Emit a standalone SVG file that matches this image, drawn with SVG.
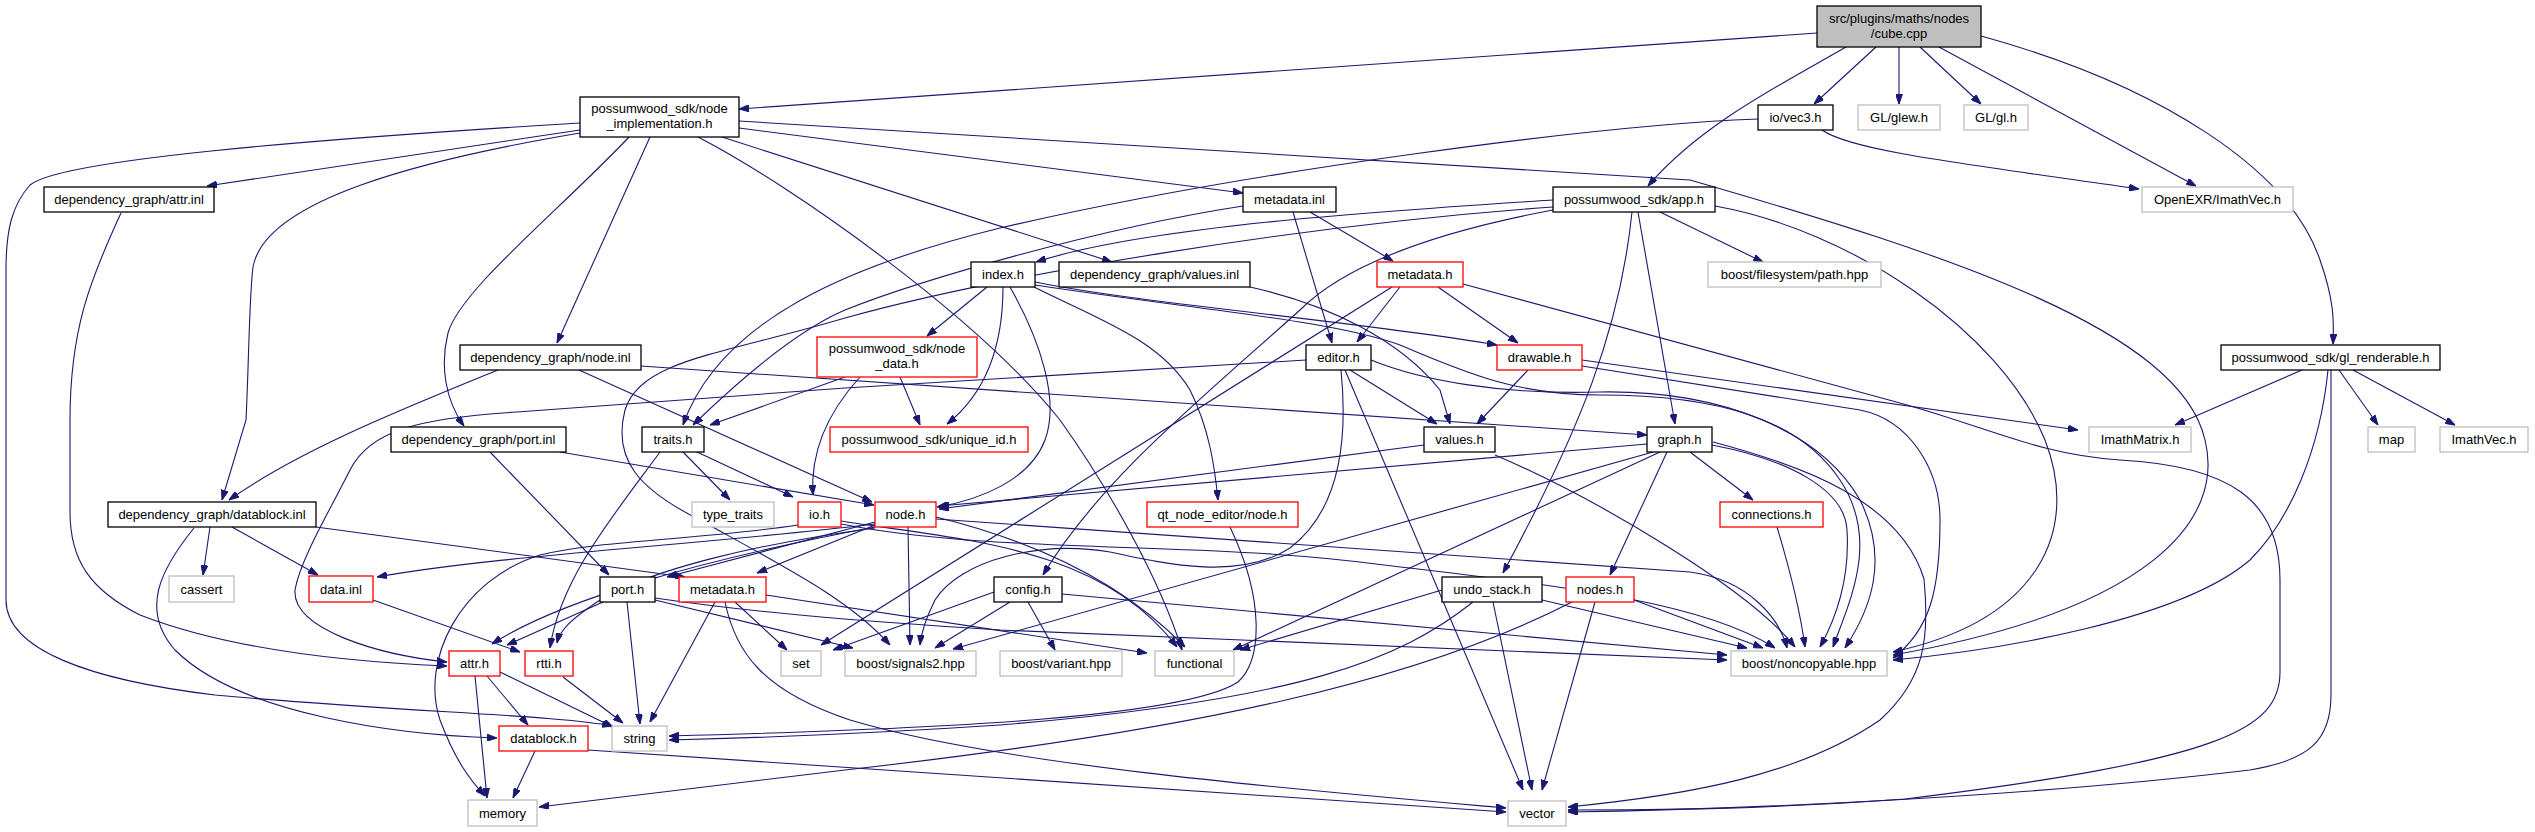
<svg xmlns="http://www.w3.org/2000/svg" width="2535" height="832" viewBox="0 0 2535 832">
<defs>
<marker id="ah" viewBox="0 0 10 7" refX="10" refY="3.5" markerWidth="10" markerHeight="7" markerUnits="userSpaceOnUse" orient="auto"><path d="M0,0 L10,3.5 L0,7 z" fill="#191970" stroke="#191970" stroke-width="1"/></marker>
<style>
.e{fill:none;stroke:#191970;stroke-width:1.1;marker-end:url(#ah)}
.n rect{fill:#fff;stroke:#000;stroke-width:1.3}
.r rect{fill:#fff;stroke:#ff0000;stroke-width:1.3}
.g rect{fill:#fff;stroke:#bfbfbf;stroke-width:1.3}
.c rect{fill:#bfbfbf;stroke:#000;stroke-width:1.3}
text{font-family:"Liberation Sans",Arial,sans-serif;font-size:13px;fill:#000;text-anchor:middle}
</style>
</defs>
<rect width="2535" height="832" fill="#fff"/>
<g id="edges">
<path class="e" d="M1817,33 L739,109"/>
<path class="e" d="M1876,47 L1814,104"/>
<path class="e" d="M1899,47 L1899,104"/>
<path class="e" d="M1920,47 L1981,104"/>
<path class="e" d="M1939,47 L2196,186"/>
<path class="e" d="M1846,47 C1780,85 1700,125 1648,186"/>
<path class="e" d="M1981,36 C2160,85 2290,170 2320,260 C2334,300 2334,320 2333,344"/>
<path class="e" d="M1822,130 C1850,150 1950,162 2139,189"/>
<path class="e" d="M1758,119 C1600,125 1250,170 1000,228 C850,265 720,320 683,425"/>
<path class="e" d="M580,130 L207,186"/>
<path class="e" d="M580,123 C300,140 60,160 30,185 C12,205 6,230 6,270 L6,600 C6,650 90,680 215,695 C400,712 560,715 612,726"/>
<path class="e" d="M580,133 C420,160 265,200 253,267 C249,300 249,360 246,420 L222,500"/>
<path class="e" d="M629,137 C560,210 460,290 448,333 C440,365 445,400 464,426"/>
<path class="e" d="M650,137 L557,343"/>
<path class="e" d="M739,128 L1243,193"/>
<path class="e" d="M722,137 L1112,262"/>
<path class="e" d="M698,137 C800,190 980,320 1060,420 C1110,490 1160,580 1182,650"/>
<path class="e" d="M739,121 L1690,180 C1950,255 2180,330 2205,440 C2225,520 2150,610 1893,655"/>
<path class="e" d="M1553,200 C1400,210 1150,225 1036,262"/>
<path class="e" d="M1553,207 C1300,225 1000,275 845,318 C720,355 640,360 625,410 C612,460 640,490 700,520 C790,570 850,600 890,645"/>
<path class="e" d="M1553,210 C1420,235 1340,270 1300,310 C1200,400 1100,480 1043,575"/>
<path class="e" d="M1660,212 L1763,262"/>
<path class="e" d="M1715,206 C1850,230 2000,330 2045,440 C2080,530 2040,620 1893,652"/>
<path class="e" d="M1632,212 C1620,330 1580,430 1503,573"/>
<path class="e" d="M1638,212 L1675,424"/>
<path class="e" d="M1243,206 C1100,228 920,280 845,310 C810,325 760,360 693,425"/>
<path class="e" d="M1310,212 L1393,261"/>
<path class="e" d="M1293,212 L1332,343"/>
<path class="e" d="M987,287 L927,336"/>
<path class="e" d="M1003,287 C1003,340 990,390 947,424"/>
<path class="e" d="M1010,287 C1040,340 1060,400 1045,440 C1030,480 980,500 937,507"/>
<path class="e" d="M1034,287 C1100,320 1160,340 1190,390 C1210,430 1215,470 1218,500"/>
<path class="e" d="M1035,282 C1150,305 1350,320 1497,345"/>
<path class="e" d="M1035,285 C1200,310 1330,320 1400,345 C1470,375 1520,395 1600,395 C1720,395 1800,420 1840,480 C1880,540 1850,600 1833,647"/>
<path class="e" d="M1371,360 C1420,380 1500,395 1600,392 C1720,390 1820,430 1860,500 C1890,560 1870,610 1845,648"/>
<path class="e" d="M1306,360 L845,388 L517,412 C420,418 370,430 350,470 C330,510 300,560 295,590 C292,630 380,655 447,662"/>
<path class="e" d="M121,213 C90,280 70,330 70,420 L70,512 C70,560 90,590 140,615 C230,650 350,662 447,666"/>
<path class="e" d="M1350,370 L1437,424"/>
<path class="e" d="M1341,370 C1348,440 1340,510 1290,548 C1240,580 1170,565 1110,552 C1040,540 960,560 935,600 C925,620 921,635 920,645"/>
<path class="e" d="M1345,370 L1523,790"/>
<path class="e" d="M1400,287 L1357,342"/>
<path class="e" d="M1438,287 L1518,343"/>
<path class="e" d="M1392,287 L821,645"/>
<path class="e" d="M1463,284 L1900,403 C1990,428 2040,455 2120,460 C2230,466 2280,500 2280,580 L2280,672 C2280,730 2220,760 1905,799 C1750,810 1650,810 1568,810"/>
<path class="e" d="M1528,370 L1477,424"/>
<path class="e" d="M1582,360 L2078,430"/>
<path class="e" d="M1582,366 L1860,410 C1910,420 1940,470 1940,520 C1940,590 1930,630 1893,658"/>
<path class="e" d="M1250,287 C1330,305 1400,340 1440,390 L1450,424"/>
<path class="e" d="M1424,445 L939,509"/>
<path class="e" d="M1495,455 C1600,500 1750,590 1795,647"/>
<path class="e" d="M1647,444 L939,506"/>
<path class="e" d="M1653,452 L953,649"/>
<path class="e" d="M1660,452 L1233,650"/>
<path class="e" d="M1667,452 L1610,575"/>
<path class="e" d="M1690,452 L1753,500"/>
<path class="e" d="M1712,445 C1790,460 1845,490 1847,530 C1850,580 1835,620 1820,647"/>
<path class="e" d="M1713,442 C1800,465 1900,500 1924,579 C1930,640 1924,680 1880,720 C1800,775 1690,795 1568,807"/>
<path class="e" d="M1442,590 L1240,650"/>
<path class="e" d="M1473,602 C1400,660 1300,700 1000,725 C850,735 750,738 669,740"/>
<path class="e" d="M1493,602 L1532,790"/>
<path class="e" d="M1542,600 L1747,648"/>
<path class="e" d="M1572,602 C1420,680 1200,730 845,770 L539,807"/>
<path class="e" d="M1595,602 L1542,790"/>
<path class="e" d="M1634,600 L1763,648"/>
<path class="e" d="M1777,527 C1790,570 1800,610 1805,647"/>
<path class="e" d="M994,592 L833,650"/>
<path class="e" d="M1010,602 L935,648"/>
<path class="e" d="M1028,602 L1055,650"/>
<path class="e" d="M1062,594 L1727,655"/>
<path class="e" d="M2302,370 L2175,425"/>
<path class="e" d="M2339,370 L2378,425"/>
<path class="e" d="M2353,370 L2455,425"/>
<path class="e" d="M2328,370 C2320,450 2290,520 2250,560 C2180,620 2000,650 1893,660"/>
<path class="e" d="M2331,370 L2331,695 C2331,740 2310,760 2250,770 C2000,800 1700,810 1568,812"/>
<path class="e" d="M498,370 C400,410 300,450 229,500"/>
<path class="e" d="M579,370 L872,502"/>
<path class="e" d="M641,366 L1647,435"/>
<path class="e" d="M900,377 L920,425"/>
<path class="e" d="M845,377 L710,425"/>
<path class="e" d="M860,377 C830,410 810,450 813,495"/>
<path class="e" d="M683,452 L730,500"/>
<path class="e" d="M697,452 L793,497"/>
<path class="e" d="M660,452 C610,520 560,580 550,648"/>
<path class="e" d="M490,452 L609,575"/>
<path class="e" d="M560,452 L874,505"/>
<path class="e" d="M210,527 L203,575"/>
<path class="e" d="M232,527 L318,575"/>
<path class="e" d="M194,528 C160,570 140,610 175,650 C240,715 400,735 497,738"/>
<path class="e" d="M316,527 L685,577"/>
<path class="e" d="M798,525 C700,540 600,540 540,555 C460,580 420,660 440,720 C455,760 470,780 485,796"/>
<path class="e" d="M841,521 C960,540 1100,545 1177,647"/>
<path class="e" d="M841,524 C1000,555 1200,540 1384,565 C1550,585 1700,600 1775,648"/>
<path class="e" d="M908,527 L910,645"/>
<path class="e" d="M936,517 C1050,545 1130,590 1185,647"/>
<path class="e" d="M936,519 L1690,572 C1750,580 1780,620 1787,648"/>
<path class="e" d="M875,525 L757,573"/>
<path class="e" d="M875,522 L667,577"/>
<path class="e" d="M875,524 C700,545 500,555 377,577"/>
<path class="e" d="M875,527 C700,560 560,600 492,644"/>
<path class="e" d="M875,528 C750,545 650,570 600,600 C570,620 560,630 557,643"/>
<path class="e" d="M603,602 L507,645"/>
<path class="e" d="M627,602 L640,724"/>
<path class="e" d="M655,600 L853,648"/>
<path class="e" d="M655,598 C750,612 845,620 1000,630 L1727,660"/>
<path class="e" d="M715,602 L650,722"/>
<path class="e" d="M735,602 L787,650"/>
<path class="e" d="M725,602 C735,650 760,690 850,720 C1000,765 1300,790 1506,808"/>
<path class="e" d="M766,595 L1147,653"/>
<path class="e" d="M487,676 L528,725"/>
<path class="e" d="M500,672 L613,727"/>
<path class="e" d="M475,676 L487,798"/>
<path class="e" d="M563,677 L623,723"/>
<path class="e" d="M373,600 L520,652"/>
<path class="e" d="M535,751 L513,798"/>
<path class="e" d="M588,750 L1506,812"/>
<path class="e" d="M1230,527 C1265,600 1262,660 1238,682 C1180,720 900,730 669,736"/>
</g>
<g id="n_cube" class="c"><rect x="1817" y="6" width="164" height="41"/><text x="1899" y="23">src/plugins/maths/nodes</text><text x="1899" y="38">/cube.cpp</text></g>
<g id="n_node_impl" class="n"><rect x="580" y="97" width="159" height="40"/><text x="659.5" y="113">possumwood_sdk/node</text><text x="659.5" y="128">_implementation.h</text></g>
<g id="n_vec3" class="n"><rect x="1758" y="105" width="75" height="25"/><text x="1795.5" y="122">io/vec3.h</text></g>
<g id="n_glew" class="g"><rect x="1858" y="105" width="82" height="25"/><text x="1899" y="122">GL/glew.h</text></g>
<g id="n_gl" class="g"><rect x="1964" y="105" width="64" height="25"/><text x="1996" y="122">GL/gl.h</text></g>
<g id="n_openexr" class="g"><rect x="2142" y="187" width="151" height="25"/><text x="2217.5" y="204">OpenEXR/ImathVec.h</text></g>
<g id="n_app" class="n"><rect x="1553" y="187" width="162" height="25"/><text x="1634" y="204">possumwood_sdk/app.h</text></g>
<g id="n_glr" class="n"><rect x="2221" y="345" width="219" height="25"/><text x="2330.5" y="362">possumwood_sdk/gl_renderable.h</text></g>
<g id="n_attr_inl" class="n"><rect x="44" y="187" width="170" height="25"/><text x="129" y="204">dependency_graph/attr.inl</text></g>
<g id="n_metadata_inl" class="n"><rect x="1243" y="187" width="93" height="25"/><text x="1289.5" y="204">metadata.inl</text></g>
<g id="n_index" class="n"><rect x="971" y="262" width="64" height="25"/><text x="1003" y="279">index.h</text></g>
<g id="n_values_inl" class="n"><rect x="1059" y="262" width="191" height="25"/><text x="1154.5" y="279">dependency_graph/values.inl</text></g>
<g id="n_metadata_h" class="r"><rect x="1377" y="262" width="86" height="25"/><text x="1420" y="279">metadata.h</text></g>
<g id="n_path" class="g"><rect x="1708" y="262" width="173" height="25"/><text x="1794.5" y="279">boost/filesystem/path.hpp</text></g>
<g id="n_node_data" class="r"><rect x="817" y="337" width="160" height="40"/><text x="897" y="353">possumwood_sdk/node</text><text x="897" y="368">_data.h</text></g>
<g id="n_editor" class="n"><rect x="1306" y="345" width="65" height="25"/><text x="1338.5" y="362">editor.h</text></g>
<g id="n_drawable" class="r"><rect x="1497" y="345" width="85" height="25"/><text x="1539.5" y="362">drawable.h</text></g>
<g id="n_node_inl" class="n"><rect x="460" y="345" width="181" height="25"/><text x="550.5" y="362">dependency_graph/node.inl</text></g>
<g id="n_traits" class="n"><rect x="642" y="427" width="62" height="25"/><text x="673" y="444">traits.h</text></g>
<g id="n_port_inl" class="n"><rect x="391" y="427" width="175" height="25"/><text x="478.5" y="444">dependency_graph/port.inl</text></g>
<g id="n_unique_id" class="r"><rect x="830" y="427" width="198" height="25"/><text x="929" y="444">possumwood_sdk/unique_id.h</text></g>
<g id="n_values_h" class="n"><rect x="1424" y="427" width="71" height="25"/><text x="1459.5" y="444">values.h</text></g>
<g id="n_graph" class="n"><rect x="1647" y="427" width="65" height="25"/><text x="1679.5" y="444">graph.h</text></g>
<g id="n_imathmatrix" class="g"><rect x="2089" y="427" width="102" height="25"/><text x="2140" y="444">ImathMatrix.h</text></g>
<g id="n_map" class="g"><rect x="2368" y="427" width="47" height="25"/><text x="2391.5" y="444">map</text></g>
<g id="n_imathvec" class="g"><rect x="2440" y="427" width="88" height="25"/><text x="2484" y="444">ImathVec.h</text></g>
<g id="n_datablock_inl" class="n"><rect x="108" y="502" width="208" height="25"/><text x="212" y="519">dependency_graph/datablock.inl</text></g>
<g id="n_type_traits" class="g"><rect x="692" y="502" width="82" height="25"/><text x="733" y="519">type_traits</text></g>
<g id="n_io" class="r"><rect x="798" y="502" width="43" height="25"/><text x="819.5" y="519">io.h</text></g>
<g id="n_node_h" class="r"><rect x="875" y="502" width="61" height="25"/><text x="905.5" y="519">node.h</text></g>
<g id="n_qt_node" class="r"><rect x="1147" y="502" width="151" height="25"/><text x="1222.5" y="519">qt_node_editor/node.h</text></g>
<g id="n_connections" class="r"><rect x="1720" y="502" width="103" height="25"/><text x="1771.5" y="519">connections.h</text></g>
<g id="n_cassert" class="g"><rect x="169" y="576" width="65" height="26"/><text x="201.5" y="594">cassert</text></g>
<g id="n_data_inl" class="r"><rect x="309" y="576" width="64" height="26"/><text x="341" y="594">data.inl</text></g>
<g id="n_port_h" class="n"><rect x="600" y="577" width="55" height="25"/><text x="627.5" y="594">port.h</text></g>
<g id="n_metadata_h2" class="r"><rect x="679" y="577" width="87" height="25"/><text x="722.5" y="594">metadata.h</text></g>
<g id="n_config" class="n"><rect x="994" y="577" width="68" height="25"/><text x="1028" y="594">config.h</text></g>
<g id="n_undo" class="n"><rect x="1442" y="577" width="100" height="25"/><text x="1492" y="594">undo_stack.h</text></g>
<g id="n_nodes" class="r"><rect x="1566" y="577" width="68" height="25"/><text x="1600" y="594">nodes.h</text></g>
<g id="n_attr_h" class="r"><rect x="449" y="651" width="51" height="25"/><text x="474.5" y="668">attr.h</text></g>
<g id="n_rtti" class="r"><rect x="525" y="651" width="48" height="25"/><text x="549" y="668">rtti.h</text></g>
<g id="n_set" class="g"><rect x="781" y="651" width="40" height="25"/><text x="801" y="668">set</text></g>
<g id="n_signals2" class="g"><rect x="845" y="651" width="131" height="25"/><text x="910.5" y="668">boost/signals2.hpp</text></g>
<g id="n_variant" class="g"><rect x="1000" y="651" width="122" height="25"/><text x="1061" y="668">boost/variant.hpp</text></g>
<g id="n_functional" class="g"><rect x="1155" y="651" width="79" height="25"/><text x="1194.5" y="668">functional</text></g>
<g id="n_noncopyable" class="g"><rect x="1731" y="651" width="156" height="25"/><text x="1809" y="668">boost/noncopyable.hpp</text></g>
<g id="n_datablock_h" class="r"><rect x="499" y="726" width="89" height="25"/><text x="543.5" y="743">datablock.h</text></g>
<g id="n_string" class="g"><rect x="612" y="726" width="55" height="25"/><text x="639.5" y="743">string</text></g>
<g id="n_memory" class="g"><rect x="468" y="800" width="69" height="26"/><text x="502.5" y="818">memory</text></g>
<g id="n_vector" class="g"><rect x="1508" y="801" width="58" height="25"/><text x="1537" y="818">vector</text></g>
</svg>
